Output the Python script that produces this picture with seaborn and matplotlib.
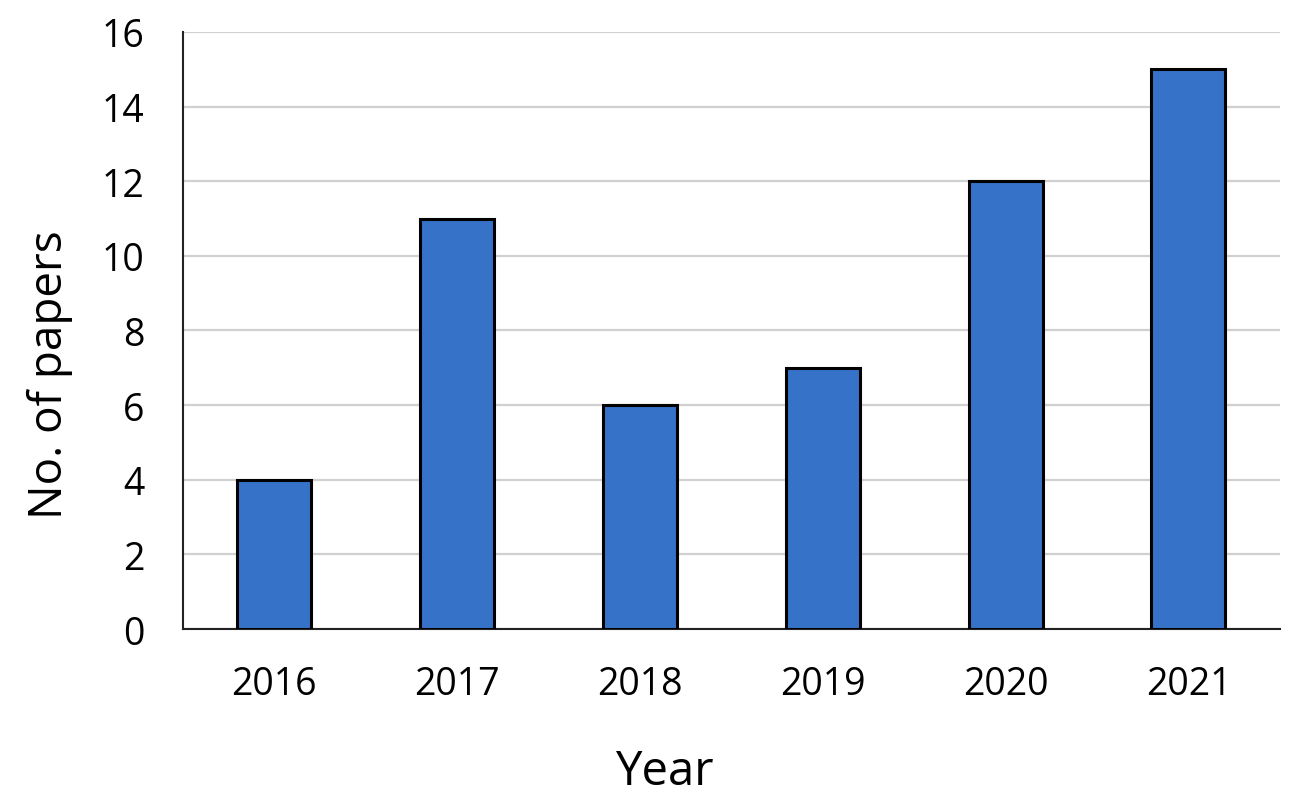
import pandas as pd
import matplotlib
matplotlib.use('Agg')
import matplotlib.pyplot as plt
import seaborn as sns

years = ['2016', '2017', '2018', '2019', '2020', '2021']
papers = [4, 11, 6, 7, 12, 15]

df = pd.DataFrame({'Year': years, 'papers': papers})

sns.set_style('white')
plt.rcParams['font.family'] = ['Open Sans', 'DejaVu Sans']
plt.rcParams['text.color'] = 'black'
plt.rcParams['axes.labelcolor'] = 'black'
plt.rcParams['xtick.color'] = 'black'
plt.rcParams['ytick.color'] = 'black'

fig = plt.figure(figsize=(12.98, 8.04), dpi=100)
ax = fig.add_axes([0.141, 0.2164, 0.845, 0.7426])

sns.barplot(data=df, x='Year', y='papers', color='#3672C8', saturation=1,
            width=0.405, edgecolor='black', linewidth=2.2, ax=ax, zorder=3)

ax.set_ylim(0, 16)
ax.set_xlim(-0.5, 5.5)
ax.set_yticks(range(0, 17, 2))
ax.yaxis.grid(True, color='#D0D0D0', linewidth=1.6, zorder=0)
ax.set_axisbelow(True)

for side in ['top', 'right']:
    ax.spines[side].set_visible(False)
for side in ['left', 'bottom']:
    ax.spines[side].set_color('#222222')
    ax.spines[side].set_linewidth(1.5)

ax.tick_params(axis='both', length=0, labelsize=27)
ax.tick_params(axis='y', pad=28)
ax.tick_params(axis='x', pad=26)
ax.set_xlabel('Year', fontsize=34, labelpad=32, fontweight='medium')
ax.set_ylabel('No. of papers', fontsize=33, labelpad=20, fontweight='medium')
ax.xaxis.label.set_x(0.4385)
ax.yaxis.label.set_y(0.427)

fig.savefig('out.png', dpi=100)
